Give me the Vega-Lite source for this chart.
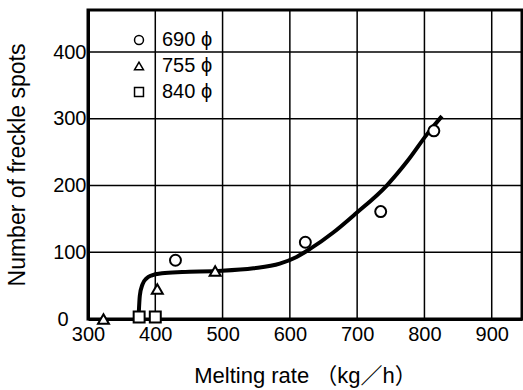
{
  "$schema": "https://vega.github.io/schema/vega-lite/v6.json",
  "width": 434,
  "height": 309,
  "autosize": "none",
  "padding": {"left": 88, "top": 10, "right": 1, "bottom": 71},
  "background": "white",
  "config": {
    "font": "Liberation Sans",
    "view": {"stroke": "black", "strokeWidth": 3},
    "axis": {
      "domainColor": "black", "domainWidth": 3,
      "tickColor": "black", "tickWidth": 3,
      "labelColor": "black", "titleColor": "black",
      "labelFontSize": 20, "titleFontSize": 22, "titleFontWeight": "normal",
      "labelFont": "Liberation Sans", "titleFont": "Liberation Sans, Noto Sans CJK JP"
    }
  },
  "datasets": {
    "points": [
      {"rate": 430, "spots": 88, "dia": "690 ϕ"},
      {"rate": 623, "spots": 115, "dia": "690 ϕ"},
      {"rate": 735, "spots": 161, "dia": "690 ϕ"},
      {"rate": 814, "spots": 282, "dia": "690 ϕ"},
      {"rate": 323, "spots": 0, "dia": "755 ϕ"},
      {"rate": 403, "spots": 45, "dia": "755 ϕ"},
      {"rate": 489, "spots": 72, "dia": "755 ϕ"},
      {"rate": 376, "spots": 3, "dia": "840 ϕ"},
      {"rate": 400, "spots": 3, "dia": "840 ϕ"}
    ],
    "curve": [
      {"rate": 375.5, "spots": 10},
      {"rate": 377, "spots": 35},
      {"rate": 381, "spots": 52},
      {"rate": 387, "spots": 61},
      {"rate": 395, "spots": 65.5},
      {"rate": 410, "spots": 68.5},
      {"rate": 440, "spots": 70.5},
      {"rate": 490, "spots": 72},
      {"rate": 546, "spots": 76},
      {"rate": 585, "spots": 83},
      {"rate": 610, "spots": 93},
      {"rate": 630, "spots": 105},
      {"rate": 665, "spots": 130},
      {"rate": 698, "spots": 158},
      {"rate": 744, "spots": 200},
      {"rate": 775, "spots": 237},
      {"rate": 804, "spots": 277},
      {"rate": 826, "spots": 304}
    ],
    "xgrid": [
      {"rate": 400}, {"rate": 500}, {"rate": 600}, {"rate": 700}, {"rate": 800}, {"rate": 900}
    ],
    "ygrid": [
      {"spots": 100}, {"spots": 200}, {"spots": 300}, {"spots": 400}
    ]
  },
  "layer": [
    {
      "data": {"name": "xgrid"},
      "mark": {"type": "rule", "color": "black", "strokeWidth": 1.5},
      "encoding": {
        "x": {
          "field": "rate", "type": "quantitative",
          "scale": {"domain": [300, 945], "nice": false, "zero": false},
          "axis": {
            "title": "Melting rate （kg／h）", "grid": false,
            "tickCount": 7, "tickOpacity": 0, "labelPadding": 0, "labelFlush": false, "titlePadding": 21
          }
        }
      }
    },
    {
      "data": {"name": "ygrid"},
      "mark": {"type": "rule", "color": "black", "strokeWidth": 1.5},
      "encoding": {
        "y": {
          "field": "spots", "type": "quantitative",
          "scale": {"domain": [0, 463], "nice": false},
          "axis": {
            "title": "Number of freckle spots", "grid": false,
            "titleFontSize": 23,
            "tickCount": 5, "tickOpacity": 0, "tickSize": 2,
            "labelPadding": {"condition": {"test": "datum.value === 0", "value": 18}, "value": 0},
            "labelFlush": false, "labelOverlap": false,
            "titlePadding": 23
          }
        }
      }
    },
    {
      "data": {"name": "curve"},
      "mark": {"type": "line", "interpolate": "monotone", "color": "black", "strokeWidth": 4},
      "encoding": {
        "x": {"field": "rate", "type": "quantitative"},
        "y": {"field": "spots", "type": "quantitative"}
      }
    },
    {
      "data": {"name": "points"},
      "mark": {"type": "point", "filled": false, "fill": "white", "color": "black", "strokeWidth": 2, "size": 120, "opacity": 1, "fillOpacity": 1},
      "encoding": {
        "x": {"field": "rate", "type": "quantitative"},
        "y": {"field": "spots", "type": "quantitative"},
        "shape": {
          "field": "dia", "type": "nominal",
          "scale": {"domain": ["690 ϕ", "755 ϕ", "840 ϕ"], "range": ["circle", "triangle-up", "square"]},
          "legend": {
            "title": null, "orient": "none", "legendX": 41, "legendY": 20, "padding": 0,
            "symbolSize": 80, "labelFontSize": 20, "labelColor": "black", "labelFont": "Liberation Sans, DejaVu Sans",
            "labelOffset": 13, "rowPadding": 6,
            "encode": {"symbols": {"update": {"stroke": {"value": "black"}, "fill": {"value": "white"}, "strokeWidth": {"value": 2}, "opacity": {"value": 1}}}}
          }
        }
      }
    }
  ]
}
